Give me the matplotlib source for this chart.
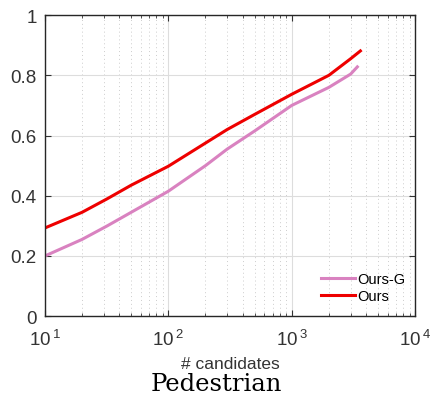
import numpy as np
import matplotlib
matplotlib.use("Agg")
import matplotlib.pyplot as plt
from matplotlib.ticker import LogLocator, NullFormatter

plt.rcParams['font.family'] = ['Liberation Sans', 'DejaVu Sans']
plt.rcParams['mathtext.default'] = 'regular'

# recall vs number of candidates
cand_g = [10, 20, 32, 50, 100, 200, 300, 500, 1000, 2000, 3000, 3400]
recall_g = [0.20, 0.255, 0.30, 0.345, 0.415, 0.50, 0.555, 0.615, 0.70, 0.76, 0.804, 0.828]
cand = [10, 20, 32, 50, 100, 200, 300, 500, 1000, 2000, 3000, 3600]
recall = [0.293, 0.345, 0.39, 0.435, 0.498, 0.575, 0.62, 0.67, 0.737, 0.80, 0.855, 0.881]

fig = plt.figure(figsize=(4.32, 4.02), dpi=100)
ax = fig.add_axes([0.104, 0.211, 0.857, 0.749])

ax.plot(cand_g, recall_g, color='#d982c0', lw=2.2, label='Ours-G')
ax.plot(cand, recall, color='#ee0000', lw=2.2, label='Ours')

ax.set_xscale('log')
ax.set_xlim(10, 1e4)
ax.set_ylim(0, 1)
ax.set_yticks([0, 0.2, 0.4, 0.6, 0.8, 1])
ax.set_yticklabels(['0', '0.2', '0.4', '0.6', '0.8', '1'])
ax.set_xticks([10, 100, 1000, 10000])
ax.set_xticklabels([r'$10^{\,1}$', r'$10^{\,2}$', r'$10^{\,3}$', r'$10^{\,4}$'])
ax.xaxis.set_minor_locator(LogLocator(base=10, subs=np.arange(2, 10)))
ax.xaxis.set_minor_formatter(NullFormatter())

ax.grid(True, which='major', color='#dddddd', lw=0.8)
ax.grid(True, which='minor', axis='x', color='#cccccc', lw=0.7, ls=(0, (1, 3)))
ax.set_axisbelow(True)

ax.tick_params(which='both', direction='in', top=True, right=True, colors='#333333')
ax.tick_params(which='major', length=4, labelsize=13.5, pad=6)
ax.tick_params(axis='x', which='major', pad=9)
ax.tick_params(which='minor', length=2)
for s in ax.spines.values():
    s.set_color('#262626')
    s.set_linewidth(1.0)

ax.set_xlabel('# candidates', fontsize=12.5, color='#333333', labelpad=5)

leg = ax.legend(loc='lower right', bbox_to_anchor=(1.01, 0.0), frameon=False,
                fontsize=10.5, handlelength=2.3, handletextpad=0.2, labelspacing=0.2)

fig.text(0.5, 0.015, 'Pedestrian', family='DejaVu Serif', fontsize=17.5,
         ha='center', va='bottom')

fig.savefig('out.png', dpi=100)
